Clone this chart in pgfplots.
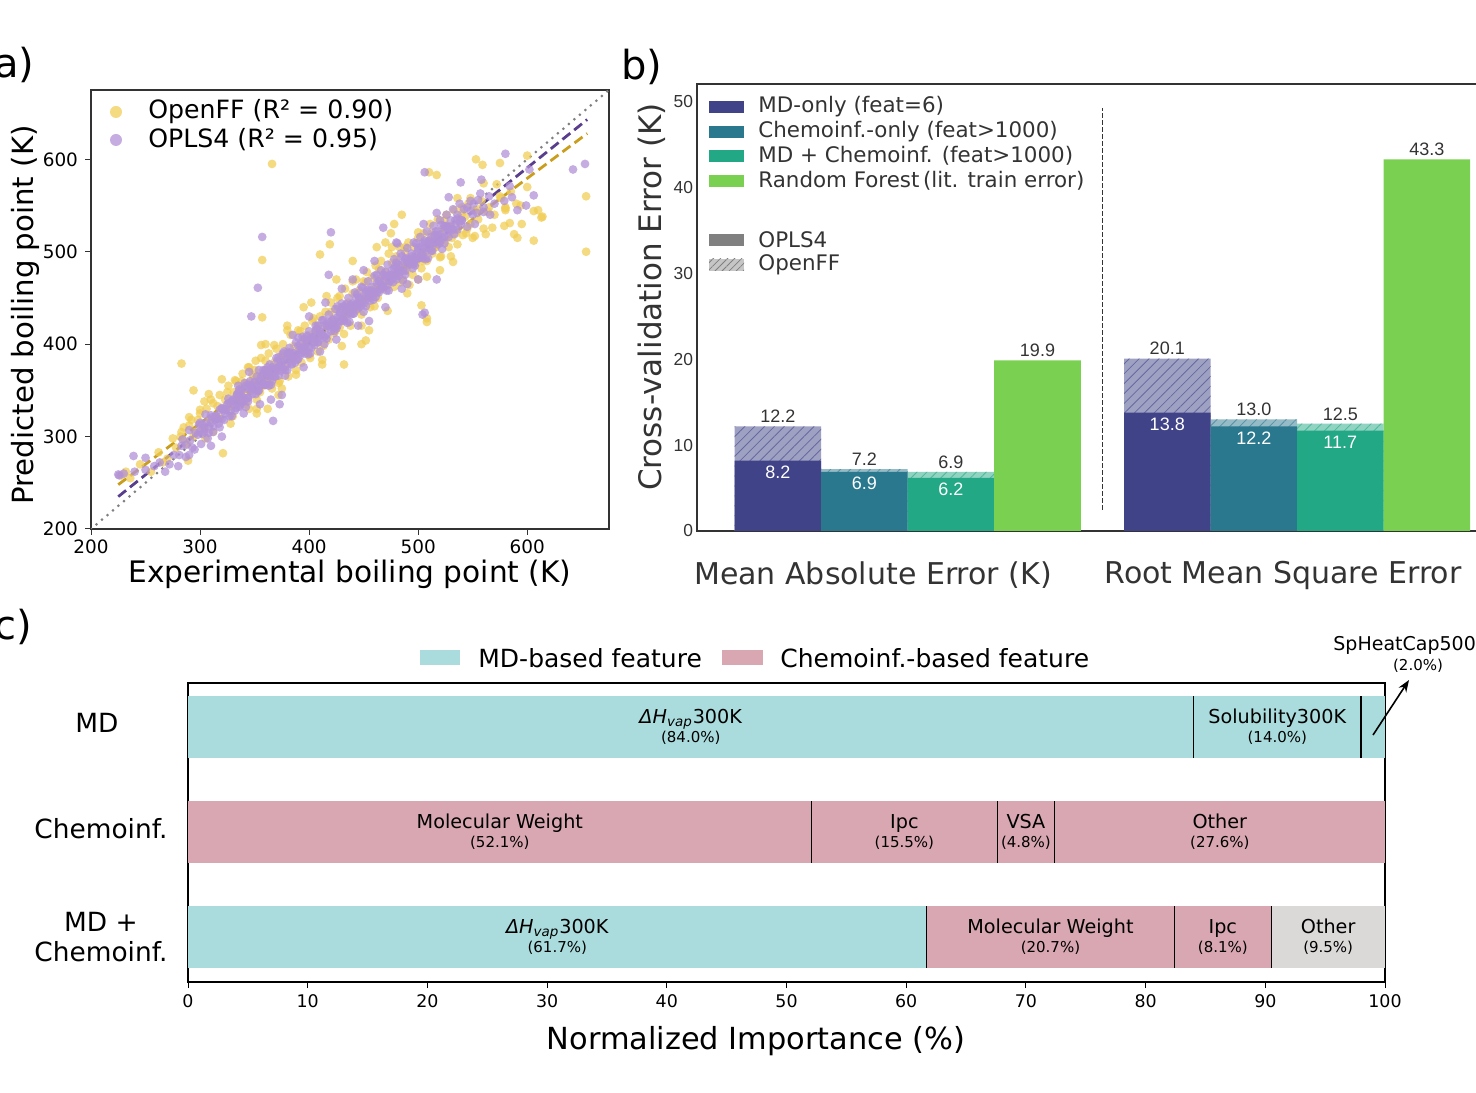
\documentclass[border=0pt]{standalone}
\usepackage{fontspec}
\setmainfont{DejaVu Sans}
\newfontfamily\arialf{Liberation Sans}
\usepackage{pgfplots}
\usepackage{pgfplotstable}
\pgfplotsset{compat=1.18}
\usetikzlibrary{patterns.meta,arrows.meta}
\pgfplotsset{/pgf/number format/assume math mode=true}

\newcommand{\sz}[1]{\fontsize{#1}{1.15\dimexpr #1\relax}\selectfont}

\definecolor{offy}{RGB}{240,205,85}
\definecolor{oplp}{RGB}{178,145,215}
\definecolor{offline}{RGB}{200,158,28}
\definecolor{oplline}{RGB}{90,62,142}
\definecolor{mdc}{RGB}{64,67,135}
\definecolor{chc}{RGB}{42,120,142}
\definecolor{mcc}{RGB}{34,168,132}
\definecolor{rfc}{RGB}{122,209,81}
\definecolor{cyanf}{RGB}{170,220,221}
\definecolor{pinkf}{RGB}{216,167,177}
\definecolor{grayf}{RGB}{219,216,216}
\definecolor{txt}{RGB}{51,51,51}

% OpenFF: experimental vs predicted boiling point (K)
\pgfplotstableread{
x y
228 258
232 262
236 255
245 270
255 262
262 283
266 272
270 276
275 298
278 288
283 305
286 295
290 312
294 300
298 318
300 325
303 309
306 330
309 318
312 336
315 322
318 345
320 330
323 340
326 355
328 333
331 348
333 360
335 342
337 352
339 368
341 345
343 358
345 375
347 350
349 362
351 382
352 340
354 366
356 385
358 355
360 372
361 360
363 390
365 366
366 352
368 380
370 395
371 372
373 360
375 388
376 400
378 375
380 392
381 365
383 410
385 385
386 398
388 372
390 415
391 395
393 380
395 405
396 420
398 392
400 410
401 385
403 425
405 402
406 415
408 392
410 430
411 410
413 398
415 435
416 420
418 405
420 445
421 425
423 412
425 438
426 450
428 418
430 440
431 428
433 460
435 432
436 445
438 420
440 455
441 438
443 470
445 445
446 458
448 432
450 468
451 450
453 478
455 455
456 440
458 472
460 462
461 485
463 450
465 470
466 490
468 460
470 478
471 465
473 498
475 475
476 488
478 462
480 495
481 478
483 505
485 485
486 470
488 500
490 480
491 510
493 492
495 475
496 505
498 488
500 515
501 495
503 482
505 520
506 500
508 490
510 512
511 530
513 498
515 518
516 505
518 535
520 510
521 495
523 525
525 512
526 540
528 505
530 528
531 515
533 545
535 520
536 508
538 532
540 548
541 518
543 538
545 525
546 552
548 530
550 515
552 545
555 535
558 555
560 525
565 548
570 540
575 560
580 545
585 565
590 552
595 530
600 570
610 545
345 330
352 325
372 345
395 440
402 445
425 470
440 490
448 400
455 415
475 520
470 510
490 455
500 470
520 480
530 495
360 400
380 420
375 352
362 330
412 378
430 398
462 505
478 530
485 540
300 329
304 308
308 346
312 305
316 333
320 362
324 330
328 314
332 361
336 346
340 335
344 375
348 367
352 330
356 399
360 382
364 361
368 399
372 358
376 386
380 415
384 384
388 367
392 414
396 399
400 388
404 428
408 420
412 383
416 452
420 435
424 414
428 452
432 411
436 439
440 468
444 437
448 420
452 467
456 452
460 441
464 481
468 473
472 436
476 505
480 488
484 467
488 505
492 464
496 493
500 521
504 490
508 473
512 520
516 505
520 494
524 534
528 526
532 489
536 558
540 541
544 520
548 558
552 517
556 546
560 574
564 543
568 526
572 573
576 558
580 547
282 300
285 310
288 292
292 318
296 305
305 298
310 340
318 320
325 348
330 322
338 360
342 338
350 372
355 348
366 595
357 491
654 500
654 560
553 600
559 594
575 596
600 604
517 583
510 586
283 379
321 282
432 378
452 404
508 428
508 424
503 442
588 519
591 515
606 512
613 537
584 531
579 528
562 519
606 544
614 538
580 548
594 550
419 508
410 497
294 350
290 321
304 338
289 274
357 429
}\openff

% OPLS4: experimental vs predicted boiling point (K)
\pgfplotstableread{
x y
226 258
230 260
240 262
250 264
258 268
263 272
268 262
272 270
276 280
280 268
283 290
287 278
291 296
295 286
298 302
301 292
304 310
307 298
310 315
312 305
315 322
318 310
320 330
322 318
325 335
327 322
330 340
332 328
334 345
336 332
338 350
340 338
342 355
344 342
346 360
348 346
350 354
352 365
354 350
356 360
358 372
360 356
362 366
364 378
366 360
368 372
370 385
372 366
374 378
376 390
378 372
380 384
382 396
384 378
386 390
388 402
390 384
392 396
394 408
396 390
398 402
400 414
402 396
404 408
406 420
408 402
410 414
412 426
414 408
416 420
418 432
420 414
422 426
424 438
426 420
428 432
430 444
432 426
434 438
436 450
438 432
440 444
442 456
444 438
446 450
448 462
450 444
452 456
454 468
456 450
458 462
460 474
462 456
464 468
466 480
468 462
470 474
472 486
474 468
476 480
478 492
480 474
482 486
484 498
486 480
488 492
490 504
492 486
494 498
496 510
498 492
500 504
502 516
504 498
506 510
508 522
510 504
512 516
514 528
516 510
518 522
520 534
522 516
524 528
526 540
528 522
530 534
532 546
534 528
536 540
538 552
540 534
545 548
550 540
555 556
560 548
565 560
570 552
548 555
552 530
500 470
490 465
470 440
455 425
440 470
430 460
415 445
400 430
385 410
375 345
365 340
345 370
335 355
320 300
310 290
300 315
290 280
450 480
460 490
480 510
505 530
485 460
445 420
425 405
410 392
395 375
355 335
340 325
281 280
284 297
287 291
290 307
293 288
296 304
299 313
302 303
305 324
308 304
311 321
314 318
317 314
320 331
323 325
326 341
329 322
332 339
335 347
338 337
341 358
344 338
347 355
350 353
353 349
356 365
359 359
362 375
365 356
368 373
371 382
374 371
377 392
380 372
383 389
386 387
389 383
392 400
395 393
398 409
401 390
404 407
407 416
410 406
413 426
416 406
419 423
422 421
425 417
428 434
431 428
434 443
437 424
440 441
443 450
446 440
449 461
452 441
455 457
458 455
461 451
464 468
467 462
470 478
473 458
476 475
479 484
482 474
485 495
488 475
491 492
494 489
497 485
500 502
503 496
506 512
509 493
512 509
515 518
518 508
521 529
524 509
527 526
530 524
533 519
536 536
539 530
542 546
545 527
548 544
551 552
554 542
557 563
560 543
330 339
333 331
336 351
339 341
342 332
345 356
348 353
351 346
354 372
357 356
360 372
363 355
366 373
369 365
372 386
375 375
378 366
381 390
384 387
387 380
390 407
393 391
396 406
399 389
402 407
405 399
408 420
411 410
414 400
417 424
420 421
423 414
426 441
429 425
432 441
435 423
438 441
441 433
444 454
447 444
450 435
453 458
456 455
459 448
462 475
465 459
468 475
471 458
474 475
477 467
480 488
483 478
486 469
489 493
492 489
495 482
498 509
501 493
504 509
507 492
510 510
513 501
516 522
519 512
522 503
525 527
528 524
300 306
302 313
304 305
306 315
308 311
310 323
312 311
314 322
316 319
318 329
320 319
322 328
324 329
326 336
328 328
330 338
332 334
334 346
336 333
338 344
340 342
342 352
344 342
346 351
348 352
350 359
352 351
354 360
356 356
358 368
360 356
362 367
364 365
366 375
368 365
370 374
372 375
374 381
376 373
378 383
380 379
382 391
384 379
386 390
388 388
390 398
392 388
394 396
396 397
398 404
400 396
402 406
404 402
406 414
408 402
410 413
412 411
414 420
416 410
418 419
420 420
422 427
424 419
426 429
428 425
430 437
432 425
434 435
436 433
438 443
440 433
442 442
444 443
446 450
448 442
450 452
452 448
454 459
456 447
458 458
460 456
462 466
464 456
466 465
468 466
470 473
472 464
474 474
476 470
478 482
480 470
482 481
484 479
486 489
488 479
490 488
492 488
494 495
496 487
498 497
500 493
502 505
504 493
506 504
508 502
510 512
512 501
514 510
516 511
518 518
520 510
522 520
524 516
526 528
528 516
530 527
532 524
534 534
536 524
538 533
540 534
357 516
353 461
347 430
367 317
373 335
239 279
250 277
225 259
481 509
468 526
420 521
418 475
506 586
539 575
528 559
517 542
580 606
602 589
642 589
653 595
606 561
599 550
591 545
566 540
558 578
584 571
579 555
586 559
506 434
504 432
517 470
}\opls

\begin{document}
\begin{tikzpicture}
\useasboundingbox (0,0) rectangle (738pt,546pt);

% ---------------- (a) parity plot ----------------
\begin{axis}[
  anchor=south west, at={(45.5pt,281.5pt)},
  scale only axis, width=259pt, height=219.5pt,
  xmin=200, xmax=675, ymin=200, ymax=675,
  xtick={200,300,...,600}, ytick={200,300,...,600},
  tick align=outside, tick pos=left, major tick length=3pt,
  tick style={black!80, line width=0.5pt},
  axis line style={black!80, line width=0.6pt},
  ticklabel style={font=\sz{9.2pt}},
  xticklabel style={yshift=1pt},
  clip=true]
\addplot[only marks, mark=*, mark size=2.2pt, color=offy,
  mark options={fill=offy, fill opacity=0.75, draw opacity=0}] table {\openff};
\addplot[only marks, mark=*, mark size=2.2pt, color=oplp,
  mark options={fill=oplp, fill opacity=0.75, draw opacity=0}] table {\opls};
\addplot[gray, line width=1.5pt, line cap=round, dash pattern=on 0pt off 3.6pt]
  coordinates {(200,200) (675,675)};
\addplot[offline, line width=1.4pt, dash pattern=on 5pt off 2.5pt]
  coordinates {(225,248) (655,628)};
\addplot[oplline, line width=1.4pt, dash pattern=on 5pt off 2.5pt]
  coordinates {(225,235) (655,643)};
\end{axis}
\fill[offy, opacity=0.75] (58pt,490pt) circle (3pt);
\fill[oplp, opacity=0.75] (58pt,476pt) circle (3pt);
\node[anchor=west, font=\sz{12.6pt}, inner sep=0pt] at (74pt,490pt) {OpenFF (R² = 0.90)};
\node[anchor=west, font=\sz{12.6pt}, inner sep=0pt] at (74pt,476pt) {OPLS4 (R² = 0.95)};
\node[font=\sz{14.8pt}] at (175pt,259pt) {Experimental boiling point (K)};
\node[font=\sz{14.6pt}, rotate=90] at (12.5pt,388.5pt) {Predicted boiling point (K)};
\node[anchor=west, font=\sz{20pt}, inner sep=0pt] at (-3pt,513.5pt) {a)};

% ---------------- (b) cross-validation errors ----------------
\begin{axis}[
  anchor=south west, at={(348.5pt,280.5pt)},
  scale only axis, width=391pt, height=223.5pt,
  xmin=-0.936, xmax=8.104, ymin=0, ymax=52.1,
  xtick=\empty, ytick={0,10,...,50},
  major tick length=0pt,
  axis line style={txt, line width=0.6pt},
  yticklabel style={font=\arialf\sz{8.7pt}, text=txt, xshift=1.5pt},
  clip=false]
% OpenFF (hatched, full height)
\addplot[ybar, bar width=1, bar shift=0pt, draw=none, fill=mdc!50,
  postaction={pattern={Lines[angle=45,distance=3.5pt,line width=0.4pt]}, pattern color=mdc!80}]
  coordinates {(0,12.2) (4.5,20.1)};
\addplot[ybar, bar width=1, bar shift=0pt, draw=none, fill=chc!50,
  postaction={pattern={Lines[angle=45,distance=3.5pt,line width=0.4pt]}, pattern color=chc!80}]
  coordinates {(1,7.2) (5.5,13.0)};
\addplot[ybar, bar width=1, bar shift=0pt, draw=none, fill=mcc!50,
  postaction={pattern={Lines[angle=45,distance=3.5pt,line width=0.4pt]}, pattern color=mcc!80}]
  coordinates {(2,6.9) (6.5,12.5)};
% OPLS4 (solid)
\addplot[ybar, bar width=1, bar shift=0pt, draw=none, fill=mdc]
  coordinates {(0,8.2) (4.5,13.8)};
\addplot[ybar, bar width=1, bar shift=0pt, draw=none, fill=chc]
  coordinates {(1,6.9) (5.5,12.2)};
\addplot[ybar, bar width=1, bar shift=0pt, draw=none, fill=mcc]
  coordinates {(2,6.2) (6.5,11.7)};
% Random forest (literature)
\addplot[ybar, bar width=1, bar shift=0pt, draw=none, fill=rfc]
  coordinates {(3,19.9) (7.5,43.3)};
% separator between metrics
\addplot[txt, line width=0.6pt, dash pattern=on 2.5pt off 1pt]
  coordinates {(3.75,2.45) (3.75,49.3)};
% value labels
\begin{scope}[every node/.style={font=\arialf\sz{9pt}}]
\node[anchor=south, text=txt, inner sep=1.5pt] at (axis cs:0,12.2) {12.2};
\node[anchor=south, text=txt, inner sep=1.5pt] at (axis cs:1,7.2) {7.2};
\node[anchor=south, text=txt, inner sep=1.5pt] at (axis cs:2,6.9) {6.9};
\node[anchor=south, text=txt, inner sep=1.5pt] at (axis cs:3,19.9) {19.9};
\node[anchor=south, text=txt, inner sep=1.5pt] at (axis cs:4.5,20.1) {20.1};
\node[anchor=south, text=txt, inner sep=1.5pt] at (axis cs:5.5,13.0) {13.0};
\node[anchor=south, text=txt, inner sep=1.5pt] at (axis cs:6.5,12.5) {12.5};
\node[anchor=south, text=txt, inner sep=1.5pt] at (axis cs:7.5,43.3) {43.3};
\node[anchor=north, text=white, inner sep=2.5pt] at (axis cs:0,8.2) {8.2};
\node[anchor=north, text=white, inner sep=2.5pt] at (axis cs:1,6.9) {6.9};
\node[anchor=north, text=white, inner sep=2.5pt] at (axis cs:2,6.2) {6.2};
\node[anchor=north, text=white, inner sep=2.5pt] at (axis cs:4.5,13.8) {13.8};
\node[anchor=north, text=white, inner sep=2.5pt] at (axis cs:5.5,12.2) {12.2};
\node[anchor=north, text=white, inner sep=2.5pt] at (axis cs:6.5,11.7) {11.7};
\end{scope}
\end{axis}
% legend (b)
\fill[mdc] (354.5pt,489.5pt) rectangle (372pt,495.5pt);
\fill[chc] (354.5pt,477pt) rectangle (372pt,483pt);
\fill[mcc] (354.5pt,465pt) rectangle (372pt,471pt);
\fill[rfc] (354.5pt,452.5pt) rectangle (372pt,458.5pt);
\fill[gray] (354.5pt,423pt) rectangle (372pt,429pt);
\fill[gray!45] (354.5pt,410.5pt) rectangle (372pt,416.5pt);
\fill[pattern={Lines[angle=45,distance=2.5pt,line width=0.4pt]}, pattern color=gray] (354.5pt,410.5pt) rectangle (372pt,416.5pt);
\begin{scope}[every node/.style={anchor=west, font=\sz{10.7pt}, text=txt, inner sep=0pt}]
\node at (379pt,492.5pt) {MD-only (feat=6)};
\node at (379pt,480pt) {Chemoinf.-only (feat>1000)};
\node at (379pt,468pt) {MD + Chemoinf. (feat>1000)};
\node at (379pt,455.5pt) {Random Forest\,(lit. train error)};
\node at (379pt,426pt) {OPLS4};
\node at (379pt,413.5pt) {OpenFF};
\end{scope}
\node[font=\sz{15pt}, text=txt] at (436.5pt,258.5pt) {Mean Absolute Error (K)};
\node[font=\sz{15pt}, text=txt] at (641.5pt,258.5pt) {Root Mean Square Error};
\node[font=\sz{15.5pt}, text=txt, rotate=90] at (326pt,397.5pt) {Cross-validation Error (K)};
\node[anchor=west, font=\sz{20pt}, inner sep=0pt] at (310.5pt,512.5pt) {b)};

% ---------------- (c) feature importance ----------------
\begin{axis}[
  anchor=south west, at={(94pt,55pt)},
  scale only axis, width=598.5pt, height=149.5pt,
  xmin=0, xmax=100, ymin=-0.43, ymax=2.42,
  xtick={0,10,...,100}, ytick=\empty,
  tick align=outside, xtick pos=bottom, major tick length=3pt,
  tick style={black, line width=0.5pt},
  axis line style={black, line width=0.6pt},
  xticklabel style={font=\sz{8.7pt}},
  clip=false]
% MD row
\addplot[fill=cyanf, draw=none] coordinates {(0,1.705) (84,1.705) (84,2.295) (0,2.295)} -- cycle;
\addplot[fill=cyanf, draw=none] coordinates {(84,1.705) (98,1.705) (98,2.295) (84,2.295)} -- cycle;
\addplot[fill=cyanf, draw=none] coordinates {(98,1.705) (100,1.705) (100,2.295) (98,2.295)} -- cycle;
% Chemoinf. row
\addplot[fill=pinkf, draw=none] coordinates {(0,0.705) (52.1,0.705) (52.1,1.295) (0,1.295)} -- cycle;
\addplot[fill=pinkf, draw=none] coordinates {(52.1,0.705) (67.6,0.705) (67.6,1.295) (52.1,1.295)} -- cycle;
\addplot[fill=pinkf, draw=none] coordinates {(67.6,0.705) (72.4,0.705) (72.4,1.295) (67.6,1.295)} -- cycle;
\addplot[fill=pinkf, draw=none] coordinates {(72.4,0.705) (100,0.705) (100,1.295) (72.4,1.295)} -- cycle;
% MD + Chemoinf. row
\addplot[fill=cyanf, draw=none] coordinates {(0,-0.295) (61.7,-0.295) (61.7,0.295) (0,0.295)} -- cycle;
\addplot[fill=pinkf, draw=none] coordinates {(61.7,-0.295) (82.4,-0.295) (82.4,0.295) (61.7,0.295)} -- cycle;
\addplot[fill=pinkf, draw=none] coordinates {(82.4,-0.295) (90.5,-0.295) (90.5,0.295) (82.4,0.295)} -- cycle;
\addplot[fill=grayf, draw=none] coordinates {(90.5,-0.295) (100,-0.295) (100,0.295) (90.5,0.295)} -- cycle;
% segment borders
\addplot[black, line width=0.6pt] coordinates {(84,1.705) (84,2.295)};
\addplot[black, line width=0.6pt] coordinates {(98,1.705) (98,2.295)};
\addplot[black, line width=0.6pt] coordinates {(52.1,0.705) (52.1,1.295)};
\addplot[black, line width=0.6pt] coordinates {(67.6,0.705) (67.6,1.295)};
\addplot[black, line width=0.6pt] coordinates {(72.4,0.705) (72.4,1.295)};
\addplot[black, line width=0.6pt] coordinates {(61.7,-0.295) (61.7,0.295)};
\addplot[black, line width=0.6pt] coordinates {(82.4,-0.295) (82.4,0.295)};
\addplot[black, line width=0.6pt] coordinates {(90.5,-0.295) (90.5,0.295)};
% segment labels
\begin{scope}[every node/.style={align=center, inner sep=0pt, font=\sz{9.6pt}}]
\node at (axis cs:42,2) {\textit{ΔH}\textsubscript{\textit{vap}}300K\\[-1.5pt]{\sz{7.5pt}(84.0\%)}};
\node at (axis cs:91,2) {Solubility300K\\[-1.5pt]{\sz{7.5pt}(14.0\%)}};
\node at (axis cs:26.05,1) {Molecular Weight\\[-1.5pt]{\sz{7.5pt}(52.1\%)}};
\node at (axis cs:59.85,1) {Ipc\\[-1.5pt]{\sz{7.5pt}(15.5\%)}};
\node at (axis cs:70,1) {VSA\\[-1.5pt]{\sz{7.5pt}(4.8\%)}};
\node at (axis cs:86.2,1) {Other\\[-1.5pt]{\sz{7.5pt}(27.6\%)}};
\node at (axis cs:30.85,0) {\textit{ΔH}\textsubscript{\textit{vap}}300K\\[-1.5pt]{\sz{7.5pt}(61.7\%)}};
\node at (axis cs:72.05,0) {Molecular Weight\\[-1.5pt]{\sz{7.5pt}(20.7\%)}};
\node at (axis cs:86.45,0) {Ipc\\[-1.5pt]{\sz{7.5pt}(8.1\%)}};
\node at (axis cs:95.25,0) {Other\\[-1.5pt]{\sz{7.5pt}(9.5\%)}};
\end{scope}
\end{axis}
% arrow to the small segment
\draw[-{Stealth[length=6pt,width=4.5pt]}, line width=0.8pt] (686.5pt,178.5pt) -- (704.5pt,206pt);
\node[anchor=west, font=\sz{9.5pt}, inner sep=0pt] at (666.5pt,223.5pt) {SpHeatCap500};
\node[font=\sz{7.5pt}, inner sep=0pt] at (709pt,213pt) {(2.0\%)};
% row labels
\node[font=\sz{13.2pt}] at (48.5pt,184.5pt) {MD};
\node[font=\sz{13.2pt}] at (50.5pt,131.5pt) {Chemoinf.};
\node[font=\sz{13.2pt}, align=center] at (50.5pt,77.5pt) {MD +\\Chemoinf.};
% legend (c)
\fill[cyanf] (210pt,213.5pt) rectangle (230pt,221pt);
\fill[pinkf] (361pt,213.5pt) rectangle (381.5pt,221pt);
\node[anchor=west, font=\sz{12.5pt}, inner sep=0pt] at (239pt,217pt) {MD-based feature};
\node[anchor=west, font=\sz{12.5pt}, inner sep=0pt] at (390pt,217pt) {Chemoinf.-based feature};
\node[font=\sz{15.2pt}] at (378pt,25.5pt) {Normalized Importance (\%)};
\node[anchor=west, font=\sz{20pt}, inner sep=0pt] at (-3pt,232.5pt) {c)};
\end{tikzpicture}
\end{document}
